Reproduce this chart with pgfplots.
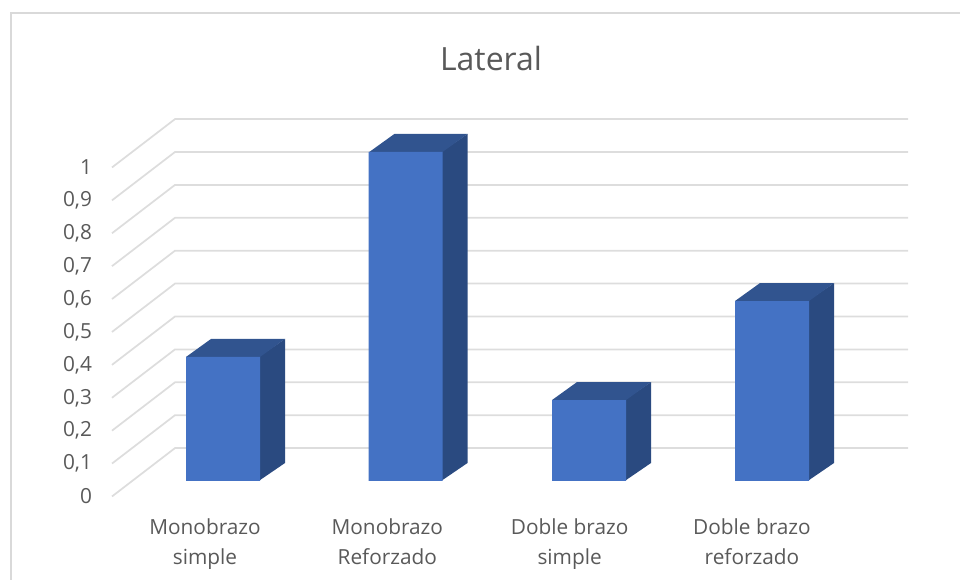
\documentclass[border=0pt]{standalone}
\usepackage{fontspec}
\setmainfont{Open Sans}
\usepackage{pgfplots}
\pgfplotsset{compat=1.18}
\definecolor{frontc}{HTML}{4472C4}
\definecolor{sidec}{HTML}{2A4A80}
\definecolor{topc}{HTML}{31548F}
\definecolor{gridc}{HTML}{DDDDDD}
\definecolor{framec}{HTML}{D9D9D9}
\definecolor{textc}{HTML}{595959}
\begin{document}
\begin{tikzpicture}[x=1pt,y=1pt]
\path[use as bounding box] (0,0) rectangle (720,435);
% front-plane axis: walls and bars
\begin{axis}[
  at={(0,0)},anchor=south west,scale only axis,width=720pt,height=435pt,
  xmin=-1.21858,xmax=4.02732,ymin=-0.3009,ymax=1.46201,
  hide axis,clip=false,
  title={\fontsize{24}{28}\selectfont\color{textc}Lateral},
  title style={at={(0.5115,0.886)},anchor=center},
]
% frame
\addplot[framec,line width=1.5pt] coordinates {(-1.1612,-0.3009)(-1.1612,1.4225)(4.02732,1.4225)};
% gridlines
\addplot[gridc,line width=1.3pt] coordinates {(-0.6066,-0.047)(-0.2623,0.100)(3.7432,0.100)};
\addplot[gridc,line width=1.3pt] coordinates {(-0.6066,0.053)(-0.2623,0.200)(3.7432,0.200)};
\addplot[gridc,line width=1.3pt] coordinates {(-0.6066,0.153)(-0.2623,0.300)(3.7432,0.300)};
\addplot[gridc,line width=1.3pt] coordinates {(-0.6066,0.253)(-0.2623,0.400)(3.7432,0.400)};
\addplot[gridc,line width=1.3pt] coordinates {(-0.6066,0.353)(-0.2623,0.500)(3.7432,0.500)};
\addplot[gridc,line width=1.3pt] coordinates {(-0.6066,0.453)(-0.2623,0.600)(3.7432,0.600)};
\addplot[gridc,line width=1.3pt] coordinates {(-0.6066,0.553)(-0.2623,0.700)(3.7432,0.700)};
\addplot[gridc,line width=1.3pt] coordinates {(-0.6066,0.653)(-0.2623,0.800)(3.7432,0.800)};
\addplot[gridc,line width=1.3pt] coordinates {(-0.6066,0.753)(-0.2623,0.900)(3.7432,0.900)};
\addplot[gridc,line width=1.3pt] coordinates {(-0.6066,0.853)(-0.2623,1.000)(3.7432,1.000)};
\addplot[gridc,line width=1.3pt] coordinates {(-0.6066,0.953)(-0.2623,1.100)(3.7432,1.100)};
% side faces
\addplot[sidec,fill=sidec,draw=none] coordinates {(0.195,0)(0.3388,0.0547)(0.3388,0.4317)(0.195,0.377)} -- cycle;
\addplot[sidec,fill=sidec,draw=none] coordinates {(1.192,0)(1.3361,0.0547)(1.3361,1.0547)(1.192,1)} -- cycle;
\addplot[sidec,fill=sidec,draw=none] coordinates {(2.195,0)(2.3388,0.0547)(2.3388,0.3007)(2.195,0.246)} -- cycle;
\addplot[sidec,fill=sidec,draw=none] coordinates {(3.195,0)(3.3388,0.0547)(3.3388,0.6017)(3.195,0.547)} -- cycle;
% top faces
\addplot[topc,fill=topc,draw=none] coordinates {(-0.2022,0.377)(0.2022,0.377)(0.3388,0.4317)(-0.0656,0.4317)} -- cycle;
\addplot[topc,fill=topc,draw=none] coordinates {(0.7995,1)(1.1995,1)(1.3361,1.0547)(0.9361,1.0547)} -- cycle;
\addplot[topc,fill=topc,draw=none] coordinates {(1.7978,0.246)(2.2022,0.246)(2.3388,0.3007)(1.9344,0.3007)} -- cycle;
\addplot[topc,fill=topc,draw=none] coordinates {(2.7978,0.547)(3.2022,0.547)(3.3388,0.6017)(2.9344,0.6017)} -- cycle;
% front faces
\addplot[ybar,bar width=55.5pt,fill=frontc,draw=none] coordinates {(0,0.377)(0.9973,1)(2,0.246)(3,0.547)};
\end{axis}
% label axis: the left slanted edge and category labels
\begin{axis}[
  at={(84pt,62.6pt)},anchor=south west,scale only axis,width=597pt,height=246.75pt,
  xmin=-0.5101,xmax=3.856,ymin=0,ymax=1,
  axis line style={draw=none},tick style={draw=none},
  xtick={0,1,2,3},
  xticklabels={{Monobrazo\\simple},{Monobrazo\\Reforzado},{Doble brazo\\simple},{Doble brazo\\reforzado}},
  ytick={0,0.1,0.2,0.3,0.4,0.5,0.6,0.7,0.8,0.9,1},
  yticklabels={0,{0,1},{0,2},{0,3},{0,4},{0,5},{0,6},{0,7},{0,8},{0,9},1},
  xticklabel style={align=center,font=\fontsize{15.6}{22.5}\selectfont,text=textc,yshift=-13pt},
  yticklabel style={font=\fontsize{15.6}{18}\selectfont,text=textc,xshift=-11.5pt},
]
\end{axis}
\end{tikzpicture}
\end{document}
